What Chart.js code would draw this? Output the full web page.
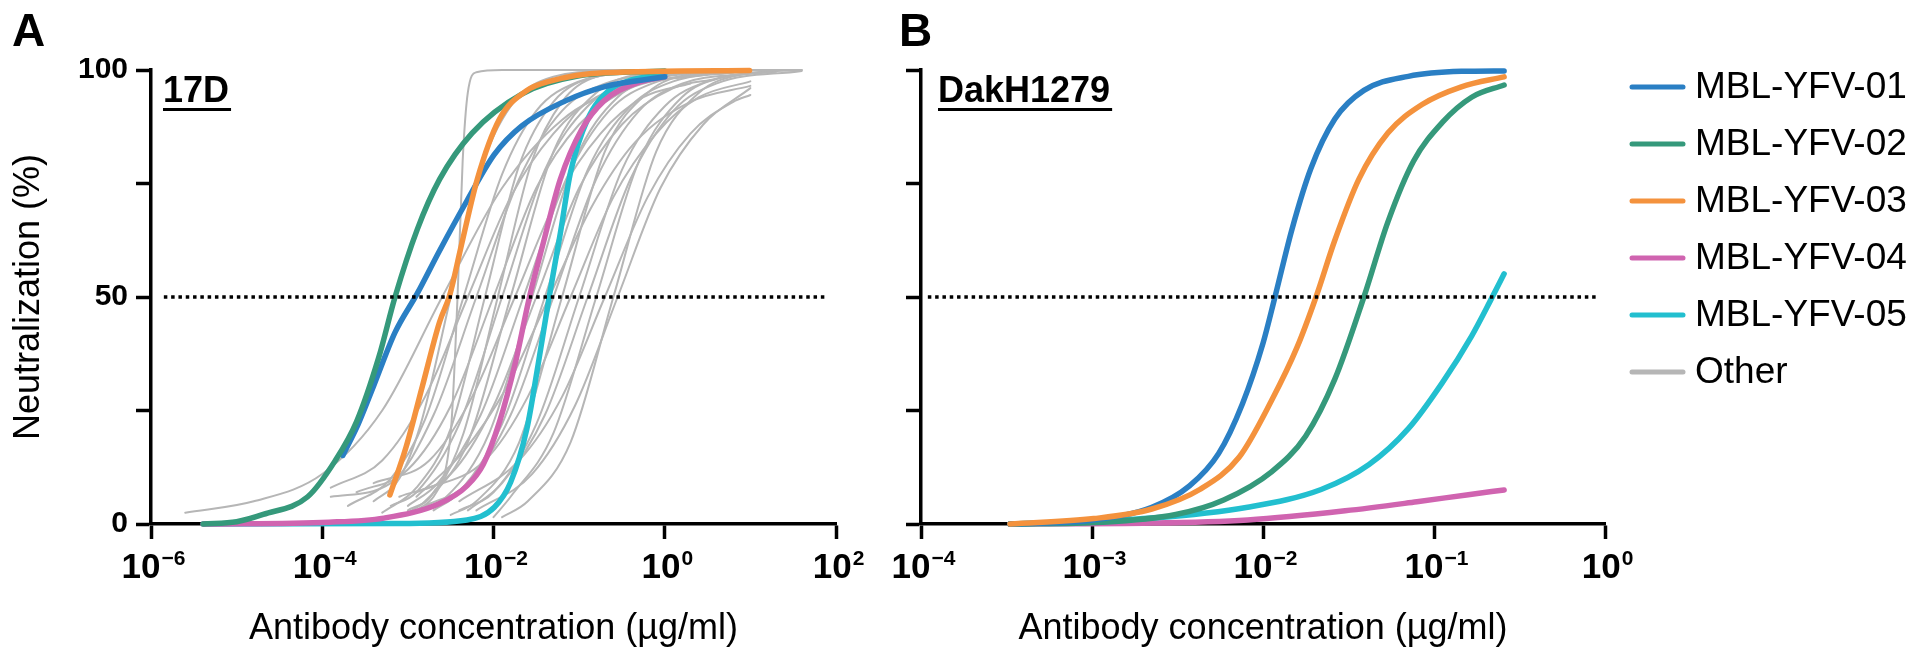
<!DOCTYPE html>
<html>
<head>
<meta charset="utf-8">
<script src="https://cdn.jsdelivr.net/npm/chart.js@4.4.1/dist/chart.umd.min.js"></script>
<style>
  body { margin: 0; background: #fff; }
  canvas { position: absolute; top: 0; }
  #chartA { left: 0; }
  #chartB { left: 880px; }
</style>
</head>
<body>
<canvas id="chartA" width="880" height="659"></canvas>
<canvas id="chartB" width="1040" height="659"></canvas>
<script>
// all curve points are [log10 antibody concentration (ug/ml), neutralization %]
const seriesNames = ['MBL-YFV-01', 'MBL-YFV-02', 'MBL-YFV-03', 'MBL-YFV-04', 'MBL-YFV-05'];
const seriesColors = ['#2a7fc4', '#35997b', '#f4923d', '#d064b0', '#22bfcf'];
const otherColor = '#b6b6b6';
const legendLabels = [...seriesNames, 'Other'];

const xExpA = [-6, -4, -2, 0, 2];
const xExpB = [-4, -3, -2, -1, 0];
const yTicks = [0, 25, 50, 75, 100];
const yLabelsA = ['0', '', '50', '', '100'];

// dotted 50% reference lines
const refLineA = [[-5.85, 50], [1.9, 50]];
const refLineB = [[-3.96, 50], [-0.04, 50]];

// panel A - 17D
const a01 = [[-3.76, 15.1], [-3.58, 22], [-3.40, 30.4], [-3.15, 42.2], [-2.89, 50.8], [-2.63, 60.2], [-2.31, 71.2], [-1.99, 81.4], [-1.67, 87.7], [-1.16, 93.2], [-0.71, 96.3], [0.0, 98.5]];
const a02 = [[-5.39, 0], [-5.0, 0.5], [-4.69, 2.1], [-4.17, 6], [-3.85, 13.9], [-3.60, 22.5], [-3.34, 36.7], [-3.15, 50], [-2.89, 64.9], [-2.63, 75.9], [-2.25, 86.1], [-1.67, 94.7], [-1.03, 98.6], [0.0, 99.8]];
const a03 = [[-3.21, 6.4], [-3.02, 17], [-2.83, 30.4], [-2.63, 44.5], [-2.51, 50.5], [-2.38, 61], [-2.19, 75.9], [-1.93, 89.2], [-1.61, 95.5], [-1.35, 97.5], [-0.71, 99.4], [0.99, 99.9]];
const a04 = [[-5.39, 0], [-3.92, 0.4], [-3.28, 1.3], [-2.63, 4.5], [-2.31, 8.4], [-2.12, 13.1], [-1.93, 22.5], [-1.74, 35.9], [-1.58, 50], [-1.42, 61.8], [-1.22, 75.9], [-0.97, 86.9], [-0.71, 93.2], [-0.33, 97.1], [0.0, 98.5]];
const a05 = [[-5.39, 0], [-3.15, 0.1], [-2.31, 0.9], [-1.99, 3.7], [-1.80, 9.2], [-1.61, 21], [-1.48, 35], [-1.35, 50], [-1.22, 64], [-1.10, 77.5], [-0.90, 89.2], [-0.65, 95.5], [-0.39, 97.8], [0.0, 99]];

const othersA = [
  [[-5.6, 2.5], [-4.8, 5], [-4.0, 11], [-3.3, 25], [-2.6, 50], [-1.9, 74], [-1.2, 89], [-0.5, 96], [0.2, 98.5], [0.8, 99.5]],
  [[-3.0, 3], [-2.7, 7], [-2.5, 20], [-2.42, 50], [-2.36, 80], [-2.3, 95], [-2.2, 99.5], [-1.9, 100], [1.6, 100]],
  [[-3.7, 4], [-3.2, 10], [-2.8, 23], [-2.35, 50], [-1.9, 77], [-1.5, 91], [-1.0, 97.5], [-0.3, 99.5]],
  [[-3.9, 6], [-3.2, 9], [-2.7, 24], [-2.2, 50], [-1.7, 76], [-1.2, 91], [-0.7, 97], [0.3, 99.5]],
  [[-3.3, 2.5], [-2.9, 8], [-2.5, 21], [-2.1, 50], [-1.7, 79], [-1.3, 93], [-0.8, 98.5], [0.0, 99.8]],
  [[-3.6, 7], [-3.0, 12], [-2.5, 26], [-2.0, 50], [-1.5, 74], [-1.0, 88], [-0.4, 96], [0.5, 99]],
  [[-3.2, 4], [-2.9, 7], [-2.4, 22], [-1.9, 50], [-1.4, 78], [-0.9, 92], [-0.4, 97.5], [0.6, 99.7]],
  [[-3.0, 2.5], [-2.8, 5], [-2.3, 18], [-1.8, 50], [-1.3, 82], [-0.8, 95], [-0.3, 99], [0.7, 100]],
  [[-3.4, 9], [-2.75, 14], [-2.25, 28], [-1.75, 50], [-1.25, 72], [-0.75, 86], [-0.25, 94], [0.3, 97]],
  [[-3.0, 4], [-2.65, 9], [-2.15, 24], [-1.65, 50], [-1.15, 76], [-0.65, 91], [-0.15, 97], [0.8, 99.5]],
  [[-2.9, 3], [-2.55, 6], [-2.05, 20], [-1.55, 50], [-1.05, 80], [-0.55, 94], [0.0, 98.5], [1.0, 99.8]],
  [[-3.1, 6], [-2.5, 11], [-2.0, 26], [-1.5, 50], [-1.0, 74], [-0.5, 88], [0.1, 96], [0.6, 98]],
  [[-2.7, 3], [-2.4, 7], [-1.9, 22], [-1.4, 50], [-0.9, 78], [-0.4, 92], [0.1, 97.5], [1.0, 99.7]],
  [[-2.8, 4], [-2.3, 9], [-1.8, 24], [-1.3, 50], [-0.8, 76], [-0.3, 91], [0.2, 97], [1.0, 99.3]],
  [[-2.5, 2], [-2.2, 5], [-1.7, 18], [-1.2, 50], [-0.7, 82], [-0.2, 95], [0.3, 99], [1.3, 100]],
  [[-2.9, 7], [-2.1, 14], [-1.6, 28], [-1.1, 50], [-0.6, 72], [-0.1, 86], [0.4, 94], [1.0, 97.5]],
  [[-2.4, 3], [-2.0, 7], [-1.5, 22], [-1.0, 50], [-0.5, 78], [0.0, 92], [0.5, 97.5], [1.3, 99.7]],
  [[-2.3, 3], [-1.9, 9], [-1.4, 24], [-0.9, 50], [-0.4, 76], [0.1, 91], [0.6, 97], [1.6, 99.8]],
  [[-2.0, 1.5], [-1.8, 6], [-1.3, 20], [-0.8, 50], [-0.3, 80], [0.2, 94], [0.7, 98.5], [1.3, 99.6]],
  [[-2.4, 5], [-1.7, 14], [-1.2, 28], [-0.7, 50], [-0.2, 72], [0.3, 86], [0.8, 93], [1.0, 94.5]],
  [[-1.9, 1.5], [-1.6, 5], [-1.1, 18], [-0.6, 50], [-0.1, 82], [0.4, 95], [0.9, 99], [1.6, 100]],
  [[-2.2, 3], [-1.55, 11], [-1.05, 26], [-0.55, 50], [-0.05, 74], [0.45, 88], [1.0, 96]],
  [[-3.4, 5], [-3.1, 10], [-2.85, 22], [-2.5, 50], [-2.15, 78], [-1.8, 92], [-1.3, 98.5], [-0.5, 100]],
  [[-3.9, 8], [-3.3, 14], [-2.8, 28], [-2.3, 50], [-1.8, 72], [-1.3, 86], [-0.8, 94], [0.0, 98.5]],
  [[-2.9, 3], [-2.7, 6], [-2.35, 20], [-1.95, 50], [-1.55, 80], [-1.2, 93], [-0.8, 98.5], [0.0, 100]],
  [[-2.9, 6], [-2.35, 16], [-1.85, 30], [-1.35, 50], [-0.85, 70], [-0.35, 84], [0.3, 93], [1.0, 96.5]]
];

// panel B - DakH1279
const b01 = [[-3.48, 0], [-2.99, 0.9], [-2.65, 3.7], [-2.43, 8.4], [-2.26, 15.5], [-2.12, 26.5], [-2.00, 39.8], [-1.93, 50], [-1.83, 65], [-1.72, 78.3], [-1.58, 89.2], [-1.41, 95.5], [-1.15, 98.6], [-0.84, 99.7], [-0.59, 99.8]];
const b02 = [[-3.48, 0], [-2.94, 0.4], [-2.51, 2.1], [-2.23, 5.3], [-1.95, 11.5], [-1.75, 19.4], [-1.58, 31.9], [-1.41, 50], [-1.27, 66.5], [-1.12, 79.9], [-0.95, 88.5], [-0.78, 94], [-0.59, 96.7]];
const b03 = [[-3.48, 0], [-2.99, 1.2], [-2.65, 3.3], [-2.37, 7.6], [-2.14, 14.7], [-1.95, 27.2], [-1.80, 39], [-1.69, 50], [-1.58, 62.5], [-1.44, 75.9], [-1.27, 86.1], [-1.07, 92.4], [-0.84, 96.3], [-0.59, 98.5]];
const b04 = [[-3.48, 0], [-2.65, 0.2], [-2.09, 0.9], [-1.52, 2.9], [-1.10, 4.9], [-0.81, 6.4], [-0.59, 7.5]];
const b05 = [[-3.48, 0], [-2.65, 1.3], [-2.09, 3.7], [-1.66, 7.6], [-1.38, 13.1], [-1.15, 21], [-0.95, 31.2], [-0.78, 41.4], [-0.67, 49.2], [-0.59, 55.1]];

const FONT = "'Liberation Sans', Arial, Helvetica, sans-serif";
Chart.defaults.font.family = FONT;
Chart.defaults.color = '#000';

const toPts = pts => pts.map(([e, y]) => ({ x: Math.pow(10, e), y: y }));

function curve(pts, color, width) {
  return {
    data: toPts(pts),
    borderColor: color,
    borderWidth: width,
    pointRadius: 0,
    tension: 0.4,
    cubicInterpolationMode: 'monotone',
    borderCapStyle: 'round',
    borderJoinStyle: 'round',
    fill: false,
    clip: false
  };
}

function refLine(pts) {
  return {
    data: toPts(pts),
    borderColor: '#000',
    borderWidth: 3.5,
    borderDash: [3.5, 3.8],
    pointRadius: 0,
    fill: false,
    clip: false
  };
}

const axisGrid = { drawOnChartArea: false, drawTicks: true, tickLength: 15, tickColor: '#000', tickWidth: 3.5 };
const axisBorder = { color: '#000', width: 3.5 };

// panel letter, strain name, x tick labels with exponents, and the legend
function decorations(letterX, letter, strainX, strain, exps, legend) {
  return {
    id: 'decorations',
    afterDraw(chart) {
      const ctx = chart.ctx;
      const xs = chart.scales.x;
      ctx.save();
      ctx.fillStyle = '#000';
      ctx.textAlign = 'left';
      ctx.textBaseline = 'alphabetic';

      ctx.font = `bold 46px ${FONT}`;
      ctx.fillText(letter, letterX, 46);

      ctx.font = `bold 36px ${FONT}`;
      ctx.fillText(strain, strainX, 102);
      ctx.fillRect(strainX, 108, ctx.measureText(strain).width + 2, 3);

      exps.forEach(e => {
        const px = xs.getPixelForValue(Math.pow(10, e));
        const sup = e < 0 ? '\u2212' + (-e) : String(e);
        ctx.font = `bold 35px ${FONT}`;
        const w1 = ctx.measureText('10').width;
        ctx.font = `bold 21px ${FONT}`;
        const w2 = ctx.measureText(sup).width;
        const x0 = px - (w1 + w2) / 2 + 2;
        ctx.font = `bold 35px ${FONT}`;
        ctx.fillText('10', x0, 578);
        ctx.font = `bold 21px ${FONT}`;
        ctx.fillText(sup, x0 + w1 + 1, 565);
      });

      if (legend) {
        const colors = [...seriesColors, otherColor];
        ctx.font = `37px ${FONT}`;
        ctx.textBaseline = 'middle';
        ctx.lineWidth = 5;
        ctx.lineCap = 'round';
        legendLabels.forEach((label, i) => {
          const y = 87 + i * 57;
          ctx.strokeStyle = colors[i];
          ctx.beginPath();
          ctx.moveTo(752, y);
          ctx.lineTo(803, y);
          ctx.stroke();
          ctx.fillText(label, 815, y + 1);
        });
      }
      ctx.restore();
    }
  };
}

function xAxis(exps, title) {
  return {
    type: 'logarithmic',
    min: Math.pow(10, exps[0]),
    max: Math.pow(10, exps[exps.length - 1]),
    afterBuildTicks: s => { s.ticks = exps.map(e => ({ value: Math.pow(10, e) })); },
    afterFit: s => { s.height = 135; },
    ticks: { display: false },
    grid: axisGrid,
    border: axisBorder,
    title: { display: true, text: title, font: { size: 36 }, color: '#000', padding: { top: 0, bottom: 8 } }
  };
}

function yAxis(labels, width, title) {
  return {
    min: 0,
    max: 100,
    afterBuildTicks: s => { s.ticks = yTicks.map(v => ({ value: v })); },
    afterFit: s => { s.width = width; },
    ticks: {
      autoSkip: false,
      padding: 8,
      font: { size: 30, weight: 'bold' },
      color: '#000',
      callback: (v, i) => labels[i]
    },
    grid: axisGrid,
    border: axisBorder,
    title: title
      ? { display: true, text: title, font: { size: 36 }, color: '#000', padding: { top: 7, bottom: 0 } }
      : { display: false }
  };
}

const commonOptions = {
  responsive: false,
  animation: false,
  devicePixelRatio: 1,
  plugins: { legend: { display: false }, tooltip: { enabled: false } }
};

new Chart(document.getElementById('chartA'), {
  type: 'line',
  data: {
    datasets: [
      refLine(refLineA),
      curve(a03, seriesColors[2], 5.5),
      curve(a02, seriesColors[1], 5.5),
      curve(a01, seriesColors[0], 5.5),
      curve(a04, seriesColors[3], 5.5),
      curve(a05, seriesColors[4], 5.5),
      ...othersA.map(pts => curve(pts, otherColor, 2))
    ]
  },
  options: {
    ...commonOptions,
    layout: { padding: { left: 0, right: 44, top: 70, bottom: 0 } },
    scales: {
      x: xAxis(xExpA, 'Antibody concentration (µg/ml)'),
      y: yAxis(yLabelsA, 151, 'Neutralization (%)')
    }
  },
  plugins: [decorations(12, 'A', 163, '17D', xExpA, false)]
});

new Chart(document.getElementById('chartB'), {
  type: 'line',
  data: {
    datasets: [
      refLine(refLineB),
      curve(b03, seriesColors[2], 5.5),
      curve(b01, seriesColors[0], 5.5),
      curve(b02, seriesColors[1], 5.5),
      curve(b05, seriesColors[4], 5.5),
      curve(b04, seriesColors[3], 5.5)
    ]
  },
  options: {
    ...commonOptions,
    layout: { padding: { left: 0, right: 315, top: 70, bottom: 0 } },
    scales: {
      x: xAxis(xExpB, 'Antibody concentration (µg/ml)'),
      y: yAxis(['', '', '', '', ''], 41, null)
    }
  },
  plugins: [decorations(19, 'B', 58, 'DakH1279', xExpB, true)]
});
</script>
</body>
</html>
